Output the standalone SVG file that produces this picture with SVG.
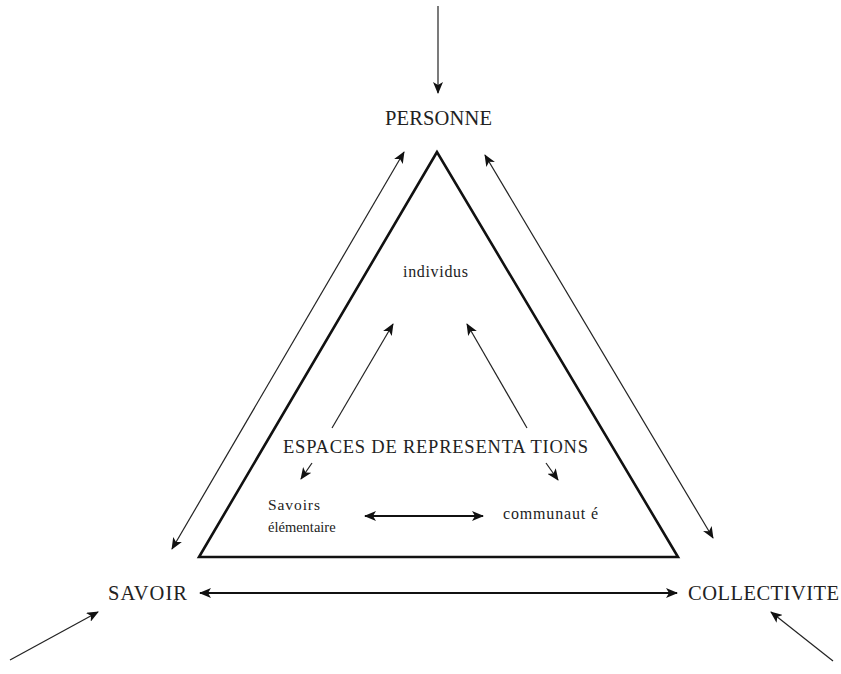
<svg xmlns="http://www.w3.org/2000/svg" width="841" height="674" viewBox="0 0 841 674">
<style>
text{font-family:"Liberation Serif","Times New Roman",serif;fill:#222}
.big{font-size:20.5px}
.mid{font-size:18.5px}
.sm{font-size:16px}
.xs{font-size:15.5px}
.c{stroke:#222;fill:none;stroke-width:1.2}
.t{stroke:#111;fill:none;stroke-width:1.8}
</style>
<defs>
<marker id="ah" viewBox="0 0 12 10" refX="11" refY="5" markerWidth="12" markerHeight="10" markerUnits="userSpaceOnUse" orient="auto-start-reverse">
<path d="M0,0 L12,5 L0,10 L3,5 z" fill="#111"/>
</marker>
</defs>
<g id="triangle">
<polygon points="437,152 199,557 678,557" fill="none" stroke="#111" stroke-width="2.6"/>
</g>
<g id="personne"><text class="big" x="385" y="125" textLength="107">PERSONNE</text></g>
<g id="savoir"><text class="big" x="108" y="600" textLength="79">SAVOIR</text></g>
<g id="collectivite"><text class="big" x="688" y="600" textLength="151">COLLECTIVITE</text></g>
<g id="individus"><text class="sm" x="403" y="277" textLength="65">individus</text></g>
<g id="espaces"><text class="mid" x="283" y="453" textLength="305">ESPACES DE REPRESENTA TIONS</text></g>
<g id="savoirs-elementaire">
<text class="xs" x="268" y="510" textLength="52">Savoirs</text>
<text x="268" y="532" style="font-size:14.5px">élémentaire</text>
</g>
<g id="communaute"><text class="sm" x="503" y="519" textLength="95">communaut é</text></g>
<g id="connectors">
<line class="c" x1="438" y1="6" x2="438" y2="93" marker-end="url(#ah)"/>
<line class="c" x1="172" y1="549" x2="404" y2="152" marker-start="url(#ah)" marker-end="url(#ah)"/>
<line class="c" x1="485" y1="155" x2="713" y2="538" marker-start="url(#ah)" marker-end="url(#ah)"/>
<line class="t" x1="200" y1="593" x2="677" y2="593" marker-start="url(#ah)" marker-end="url(#ah)"/>
<line class="c" x1="10" y1="660" x2="98" y2="612" marker-end="url(#ah)"/>
<line class="c" x1="833" y1="661" x2="771" y2="612" marker-end="url(#ah)"/>
<line class="c" x1="332" y1="428" x2="393" y2="324" marker-end="url(#ah)"/>
<line class="c" x1="527" y1="428" x2="467" y2="324" marker-end="url(#ah)"/>
<line class="c" x1="312" y1="463" x2="301" y2="479" marker-end="url(#ah)"/>
<line class="c" x1="546" y1="463" x2="558" y2="480" marker-end="url(#ah)"/>
<line class="t" x1="365" y1="516" x2="483" y2="516" marker-start="url(#ah)" marker-end="url(#ah)"/>
</g>
</svg>
